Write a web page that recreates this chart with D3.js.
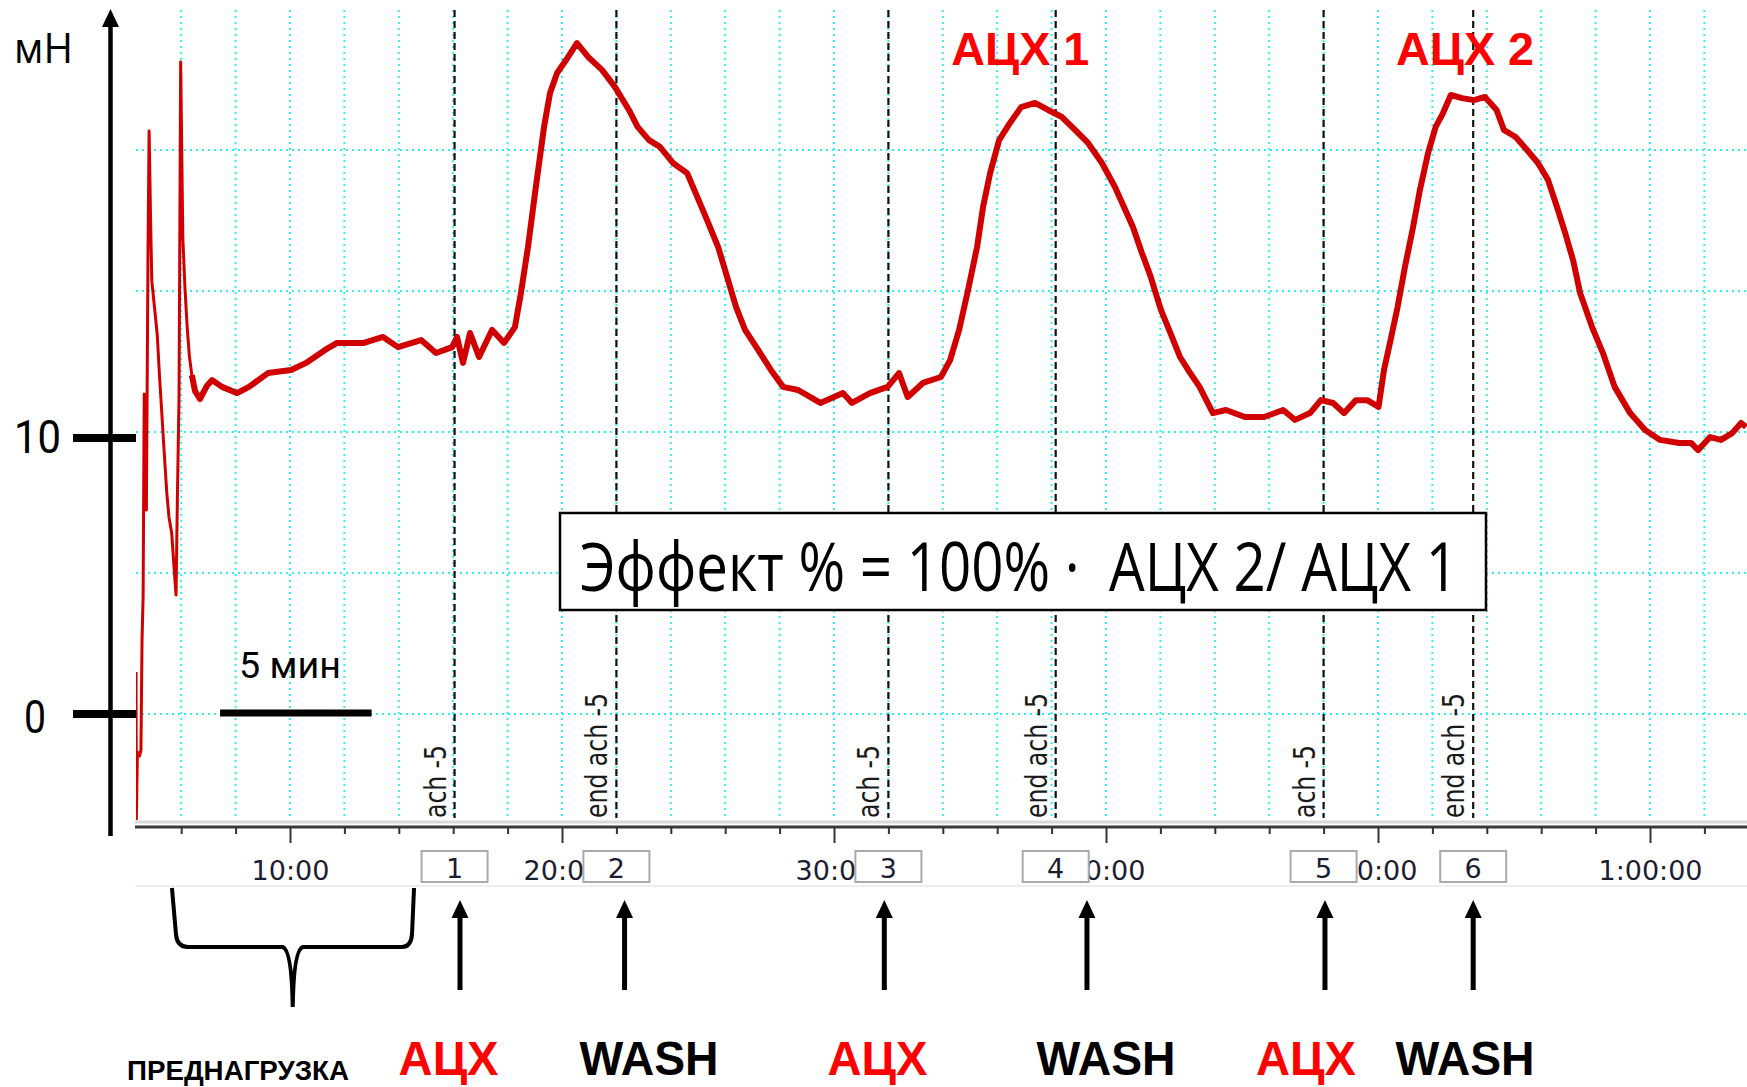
<!DOCTYPE html>
<html>
<head>
<meta charset="utf-8">
<script src="https://cdn.jsdelivr.net/npm/d3@7"></script>
<style>
body { margin: 0; background: #fff; }
svg { display: block; }
</style>
</head>
<body>
<div id="chart"></div>
<script>
const W = 1747, H = 1087;

// force trace: [minutes, mN]
const trace = [[4.34,1.49],[4.35,-3.76],[4.39,-1.35],[4.47,-1.49],[4.52,-1.28],[4.56,2.62],[4.60,4.15],[4.64,11.35],[4.67,7.77],[4.72,7.23],[4.78,16.45],[4.82,20.67],[4.88,17.23],[4.92,15.35],[5.01,14.50],[5.12,13.44],[5.20,12.02],[5.28,10.78],[5.37,9.36],[5.47,7.84],[5.55,6.99],[5.65,6.42],[5.71,5.57],[5.77,4.75],[5.81,4.22],[5.86,7.66],[5.92,11.24],[5.98,23.12],[6.06,16.88],[6.14,15.07],[6.22,13.72],[6.30,12.70],[6.39,12.02],[6.51,11.45],[6.69,11.17],[6.94,11.63],[7.13,11.84],[7.50,11.60],[8.05,11.38],[8.49,11.60],[9.19,12.09],[10.04,12.20],[10.59,12.45],[11.29,12.91],[11.73,13.16],[12.72,13.16],[13.42,13.37],[13.97,13.01],[14.82,13.26],[15.37,12.80],[15.96,13.01],[16.14,13.37],[16.36,12.45],[16.62,13.51],[16.95,12.66],[17.43,13.62],[17.87,13.16],[18.27,13.72],[18.49,14.93],[18.75,16.56],[19.01,18.48],[19.34,20.82],[19.56,22.02],[19.82,22.73],[20.15,23.19],[20.55,23.79],[20.96,23.30],[21.47,22.84],[21.95,22.23],[22.46,21.42],[22.78,20.82],[23.20,20.35],[23.60,20.11],[24.08,19.54],[24.60,19.18],[24.91,18.48],[25.33,17.52],[25.74,16.56],[26.07,15.50],[26.40,14.43],[26.73,13.62],[27.21,12.91],[27.68,12.20],[28.13,11.60],[28.68,11.49],[29.50,11.03],[30.33,11.38],[30.66,11.03],[31.32,11.38],[31.97,11.60],[32.39,12.09],[32.71,11.24],[33.27,11.74],[33.93,11.95],[34.27,12.55],[34.60,13.62],[34.93,15.04],[35.26,16.56],[35.48,17.98],[35.74,19.18],[36.07,20.35],[36.47,20.96],[36.88,21.52],[37.39,21.67],[37.87,21.42],[38.38,21.17],[38.86,20.71],[39.34,20.25],[39.85,19.54],[40.33,18.69],[40.66,17.98],[40.99,17.27],[41.32,16.35],[41.62,15.57],[42.02,14.33],[42.32,13.62],[42.72,12.66],[43.02,12.20],[43.44,11.60],[43.93,10.67],[44.41,10.78],[45.11,10.53],[45.81,10.53],[46.51,10.78],[46.95,10.43],[47.50,10.67],[47.90,11.13],[48.35,11.03],[48.75,10.67],[49.19,11.13],[49.60,11.13],[50.02,10.89],[50.22,12.20],[50.44,13.16],[50.72,14.43],[50.99,15.85],[51.29,17.27],[51.54,18.58],[51.84,19.89],[52.12,20.82],[52.39,21.31],[52.68,21.95],[53.09,21.84],[53.53,21.77],[53.93,21.88],[54.36,21.42],[54.63,20.71],[55.06,20.46],[55.48,20.00],[55.88,19.54],[56.25,18.94],[56.58,17.98],[56.88,17.06],[57.17,16.10],[57.43,14.93],[57.87,13.72],[58.27,12.80],[58.70,11.60],[59.27,10.67],[59.82,10.07],[60.37,9.72],[61.07,9.61],[61.51,9.61],[61.77,9.36],[62.21,9.82],[62.61,9.72],[63.02,9.96],[63.35,10.32],[63.53,10.18]];

const gridTimes = [6,8,10,12,14,16,18,20,22,24,26,28,30,32,34,36,38,40,42,44,46,48,50,52,54,56,58,60,62];
const gridValues = [0, 5, 10, 15, 20];
const majorTimes = [10, 20, 30, 40, 50, 60];
const majorLabels = ['10:00', '20:00', '30:00', '40:00', '50:00', '1:00:00'];

const eventTimes = [16.05, 22.0, 32.0, 38.15, 48.0, 53.5];
const eventNames = ['ach -5', 'end ach -5', 'ach -5', 'end ach -5', 'ach -5', 'end ach -5'];
const eventNums = ['1', '2', '3', '4', '5', '6'];

const yMarks = [0, 10];
const yMarkLabels = ['0', '10'];

const arrowTimes = [16.25, 22.3, 31.85, 39.3, 48.05, 53.5];
const stepNames = ['АЦХ', 'WASH', 'АЦХ', 'WASH', 'АЦХ', 'WASH'];
const stepCenters = [15.83, 23.2, 31.6, 40.0, 47.35, 53.2];

const peakNames = ['АЦХ 1', 'АЦХ 2'];
const peakCenters = [36.85, 53.2];

const braceSpan = [5.66, 10.1, 14.56];   // left, tip, right (min)
const scaleBar = [7.43, 13.0];

const red = '#d10000';
const plot = {left: 136, right: W, top: 10, bottom: 820};

const x = d3.scaleLinear().domain([0, 60]).range([18, 1650]);
const y = d3.scaleLinear().domain([0, 20]).range([714, 150]);

const svg = d3.select('#chart').append('svg')
	.attr('width', W)
	.attr('height', H);

svg.append('defs').append('clipPath').attr('id', 'plotclip')
	.append('rect')
	.attr('x', plot.left).attr('y', plot.top)
	.attr('width', plot.right - plot.left).attr('height', plot.bottom - plot.top);

// grid
const grid = svg.append('g')
	.attr('stroke', '#2ef0f0')
	.attr('stroke-width', 2)
	.attr('stroke-dasharray', '2,4');
grid.selectAll('line.v').data(gridTimes).enter().append('line')
	.attr('x1', d => x(d)).attr('x2', d => x(d))
	.attr('y1', plot.top).attr('y2', 818);
grid.selectAll('line.h').data(gridValues).enter().append('line')
	.attr('x1', plot.left).attr('x2', plot.right)
	.attr('y1', d => y(d)).attr('y2', d => y(d));

// event markers
svg.append('g').selectAll('line').data(eventTimes).enter().append('line')
	.attr('x1', d => x(d)).attr('x2', d => x(d))
	.attr('y1', plot.top).attr('y2', 818)
	.attr('stroke', '#111')
	.attr('stroke-width', 2.2)
	.attr('stroke-dasharray', '7,4');

svg.append('g').selectAll('text').data(eventTimes).enter().append('text')
	.attr('transform', d => 'translate(' + (x(d) - 9) + ',818) rotate(-90)')
	.attr('font-family', '"DejaVu Sans", sans-serif')
	.attr('font-size', 31)
	.attr('fill', '#1a1a1a')
	.attr('textLength', (d, i) => eventNames[i].length > 6 ? 125 : 73)
	.attr('lengthAdjust', 'spacingAndGlyphs')
	.text((d, i) => eventNames[i]);

// trace
const line = d3.line().x(d => x(d[0])).y(d => y(d[1]));
const traceG = svg.append('g').attr('clip-path', 'url(#plotclip)');
traceG.append('path')
	.attr('d', line(trace))
	.attr('fill', 'none')
	.attr('stroke', red)
	.attr('stroke-width', 3)
	.attr('stroke-linejoin', 'round');
traceG.append('path')
	.attr('d', line(trace.filter(d => d[0] >= 6.35)))
	.attr('fill', 'none')
	.attr('stroke', red)
	.attr('stroke-width', 6)
	.attr('stroke-linejoin', 'round');

// x axis
svg.append('line')
	.attr('x1', plot.left - 1).attr('x2', W).attr('y1', 822).attr('y2', 822)
	.attr('stroke', '#d9d9d9').attr('stroke-width', 3);
svg.append('line')
	.attr('x1', plot.left - 1).attr('x2', W).attr('y1', 886).attr('y2', 886)
	.attr('stroke', '#eeeeee').attr('stroke-width', 2);

const xAxis = d3.axisBottom(x)
	.tickValues(gridTimes)
	.tickSize(7)
	.tickSizeOuter(0)
	.tickFormat(d => {
		const i = majorTimes.indexOf(d);
		return i >= 0 ? majorLabels[i] : '';
	});
const ax = svg.append('g')
	.attr('transform', 'translate(0,827)')
	.call(xAxis);
ax.select('.domain').remove();
ax.insert('line', ':first-child')
	.attr('x1', plot.left - 1).attr('x2', W)
	.attr('stroke', '#3a3a3a').attr('stroke-width', 3);
ax.selectAll('.tick line')
	.attr('y2', d => majorTimes.includes(d) ? 16 : 7)
	.attr('stroke', '#333')
	.attr('stroke-width', 2);
ax.selectAll('.tick text')
	.attr('y', 53).attr('dy', 0)
	.attr('font-family', '"DejaVu Sans", sans-serif')
	.attr('font-size', 27)
	.attr('fill', '#1d1d30');

// numbered boxes over the axis
const boxes = svg.append('g').selectAll('g').data(eventTimes).enter().append('g')
	.attr('transform', d => 'translate(' + x(d) + ',0)');
boxes.append('rect')
	.attr('x', -33).attr('y', 851).attr('width', 66).attr('height', 31)
	.attr('fill', '#fff').attr('stroke', '#aaaaaa').attr('stroke-width', 2);
boxes.append('text')
	.attr('y', 878)
	.attr('text-anchor', 'middle')
	.attr('font-family', '"DejaVu Sans", sans-serif')
	.attr('font-size', 27)
	.attr('fill', '#1d1d30')
	.text((d, i) => eventNums[i]);

// y axis
svg.append('line')
	.attr('x1', 110.5).attr('x2', 110.5).attr('y1', 24).attr('y2', 836)
	.attr('stroke', '#000').attr('stroke-width', 4.5);
svg.append('path')
	.attr('d', 'M110.5,9 L102,27 L119,27 Z')
	.attr('fill', '#000');

svg.selectAll('line.ymark').data(yMarks).enter().append('line')
	.attr('x1', 73).attr('x2', 136)
	.attr('y1', d => y(d) + (d > 0 ? 6 : 0)).attr('y2', d => y(d) + (d > 0 ? 6 : 0))
	.attr('stroke', '#000').attr('stroke-width', 8);
svg.selectAll('text.ymark').data(yMarks).enter().append('text')
	.attr('x', (d, i) => yMarkLabels[i].length > 1 ? 14 : 24)
	.attr('y', d => y(d) + (d > 0 ? 21 : 19))
	.attr('font-family', 'Roboto, sans-serif')
	.attr('font-size', 47)
	.attr('textLength', (d, i) => yMarkLabels[i].length > 1 ? 47 : 22)
	.attr('lengthAdjust', 'spacingAndGlyphs')
	.text((d, i) => yMarkLabels[i]);

svg.append('text')
	.attr('x', 14).attr('y', 63)
	.attr('font-family', '"Open Sans", sans-serif')
	.attr('font-size', 42)
	.attr('textLength', 59)
	.attr('lengthAdjust', 'spacingAndGlyphs')
	.text('мН');

// 5 min scale bar
svg.append('line')
	.attr('x1', x(scaleBar[0])).attr('x2', x(scaleBar[1]))
	.attr('y1', y(0) - 1).attr('y2', y(0) - 1)
	.attr('stroke', '#000').attr('stroke-width', 7);
svg.append('text')
	.attr('x', x(10)).attr('y', 678)
	.attr('text-anchor', 'middle')
	.attr('font-family', 'Roboto, sans-serif')
	.attr('font-size', 36)
	.attr('textLength', 102)
	.attr('lengthAdjust', 'spacingAndGlyphs')
	.text('5 мин');

// formula box
svg.append('rect')
	.attr('x', 560).attr('y', 513).attr('width', 926).attr('height', 97)
	.attr('fill', '#fff').attr('stroke', '#000').attr('stroke-width', 2.5);
svg.append('text')
	.attr('x', 580).attr('y', 591)
	.attr('font-family', '"Open Sans", sans-serif')
	.attr('font-size', 68)
	.attr('textLength', 878)
	.attr('lengthAdjust', 'spacingAndGlyphs')
	.style('white-space', 'pre')
	.text('Эффект % = 100% ·  АЦХ 2/ АЦХ 1');

// peak labels
svg.selectAll('text.peak').data(peakCenters).enter().append('text')
	.attr('x', d => x(d)).attr('y', 65)
	.attr('text-anchor', 'middle')
	.attr('font-family', '"Liberation Sans", Arial, sans-serif')
	.attr('font-weight', 'bold')
	.attr('font-size', 46)
	.attr('fill', '#ff0000')
	.attr('textLength', 138)
	.attr('lengthAdjust', 'spacingAndGlyphs')
	.text((d, i) => peakNames[i]);

// arrows
const arrows = svg.append('g').selectAll('g').data(arrowTimes).enter().append('g')
	.attr('transform', d => 'translate(' + x(d) + ',0)');
arrows.append('line')
	.attr('y1', 912).attr('y2', 990)
	.attr('stroke', '#000').attr('stroke-width', 5);
arrows.append('path')
	.attr('d', 'M0,900 L-8.5,918 L8.5,918 Z')
	.attr('fill', '#000');

// step labels
svg.selectAll('text.step').data(stepCenters).enter().append('text')
	.attr('x', d => x(d)).attr('y', 1075)
	.attr('text-anchor', 'middle')
	.attr('font-family', '"Liberation Sans Narrow", "Liberation Sans", Arial, sans-serif')
	.attr('font-weight', 'bold')
	.attr('font-size', 48)
	.attr('fill', (d, i) => stepNames[i] === 'WASH' ? '#000' : '#ff0000')
	.attr('textLength', (d, i) => stepNames[i] === 'WASH' ? 139 : 100)
	.attr('lengthAdjust', 'spacingAndGlyphs')
	.text((d, i) => stepNames[i]);

// preload brace
const bl = x(braceSpan[0]), bc = x(braceSpan[1]), br = x(braceSpan[2]);
svg.append('path')
	.attr('d', 'M' + bl + ',888 L' + (bl + 4) + ',934 Q' + (bl + 5) + ',947 ' + (bl + 16) + ',947'
		+ ' H' + (bc - 10) + ' Q' + (bc - 1) + ',950 ' + bc + ',1007'
		+ ' Q' + (bc + 1) + ',950 ' + (bc + 10) + ',947'
		+ ' H' + (br - 12) + ' Q' + (br - 3) + ',947 ' + (br - 2) + ',934 L' + br + ',888')
	.attr('fill', 'none')
	.attr('stroke', '#000')
	.attr('stroke-width', 4);

svg.append('text')
	.attr('x', 127).attr('y', 1080)
	.attr('font-family', '"Liberation Sans Narrow", "Liberation Sans", Arial, sans-serif')
	.attr('font-weight', 'bold')
	.attr('font-size', 27)
	.attr('textLength', 222)
	.attr('lengthAdjust', 'spacingAndGlyphs')
	.text('ПРЕДНАГРУЗКА');
</script>
</body>
</html>
